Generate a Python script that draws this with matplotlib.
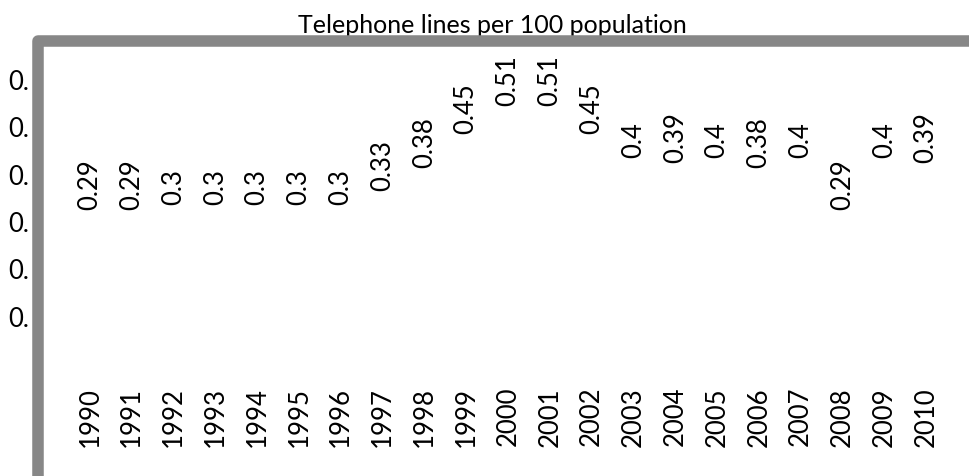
import matplotlib
matplotlib.use("Agg")
import matplotlib.pyplot as plt
from matplotlib.lines import Line2D
from matplotlib.transforms import Bbox
import numpy as np

# --- dados ---
anos = [1990, 1991, 1992, 1993, 1994, 1995, 1996, 1997, 1998, 1999, 2000,
        2001, 2002, 2003, 2004, 2005, 2006, 2007, 2008, 2009, 2010]
valores = [0.29, 0.29, 0.3, 0.3, 0.3, 0.3, 0.3, 0.33, 0.38, 0.45, 0.51,
           0.51, 0.45, 0.4, 0.39, 0.4, 0.38, 0.4, 0.29, 0.4, 0.39]
y_ticks = [0, 0.1, 0.2, 0.3, 0.4, 0.5, 0.6]
y_tick_labels = ["0", "0.1", "0.2", "0.3", "0.4", "0.5", "0.6"]
titulo = "Telephone lines per 100 population"

plt.rcParams['font.family'] = ['Lato', 'DejaVu Sans']
fs = 18.5

fig = plt.figure(figsize=(9.70, 4.76), dpi=100)
W, H = 970, 476
# area de plotagem (em pixels: esquerda 44, base 364 a partir do topo)
ax = fig.add_axes([44 / W, (H - 364) / H, (W - 44) / W, (364 - 47) / H])

x = np.arange(len(anos))
ax.plot(x, valores, linestyle='none')  # serie sem linha visivel

for xi, v in zip(x, valores):
    ax.annotate(f"{v:g}", (xi, v), xytext=(0, 12), textcoords='offset points',
                rotation=90, ha='center', va='bottom', fontsize=fs)

ax.set_xlim(-1.10, 21.05)
ax.set_ylim(0, 0.67)
ax.set_xticks(x)
ax.set_xticklabels([str(a) for a in anos], rotation=90, fontsize=fs)
ax.set_yticks(y_ticks)
ax.set_yticklabels(y_tick_labels, fontsize=fs)
ax.tick_params(axis='x', length=0, pad=16.5)
ax.tick_params(axis='y', length=0, pad=0)
for s in ax.spines.values():
    s.set_visible(False)

# rotulos do eixo y ficam cortados pela moldura (como no original)
corte = Bbox.from_extents(0, 0, 29, H)
for lbl in ax.get_yticklabels():
    lbl.set_clip_on(True)
    lbl.set_clip_box(corte)

# titulo
fig.text(492 / W, (H - 33) / H, titulo, ha='center', va='baseline',
         fontsize=18, zorder=3)

# moldura cinza (borda do grafico, cortada)
moldura = Line2D([37.5 / W, 37.5 / W, 1.05], [-0.05, (H - 41) / H, (H - 41) / H],
                 transform=fig.transFigure, color='#878787', linewidth=8.3,
                 solid_joinstyle='round', zorder=10)
fig.add_artist(moldura)

fig.savefig("out.png", dpi=100)
